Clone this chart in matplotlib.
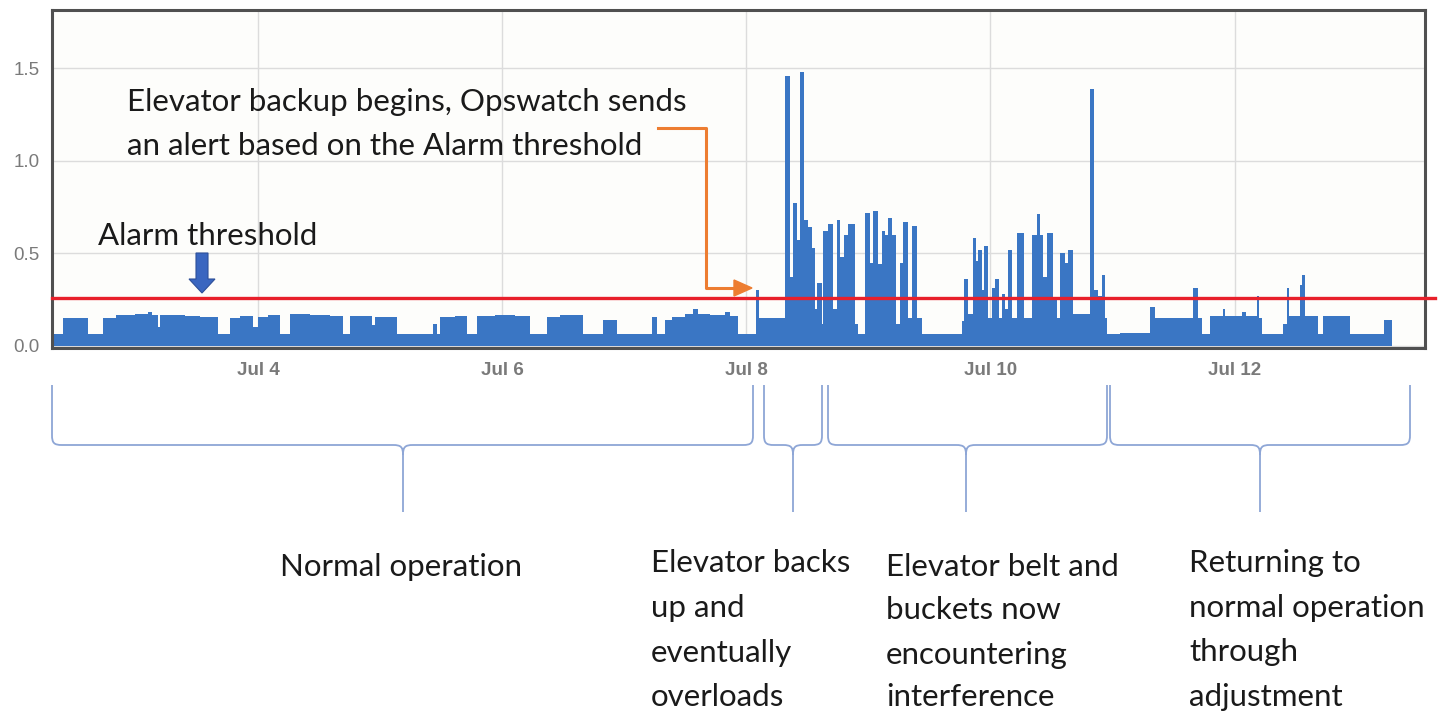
import numpy as np
import matplotlib
matplotlib.use('Agg')
import matplotlib.pyplot as plt
from matplotlib.path import Path
from matplotlib.patches import PathPatch, Polygon
from matplotlib.lines import Line2D

W, H = 1445, 713

# load signal: hours since Jul 2 00:00 where the level changes, level held until next change
change_hours = [
    7.6, 9.7, 14.6, 17.6, 20.0, 23.9, 26.4, 27.2, 28.4, 28.8, 33.7, 36.7,
    40.2, 42.6, 44.5, 47.1, 48.1, 50.0, 52.4, 54.3, 58.3, 62.2, 64.8, 66.1,
    70.5, 71.1, 75.4, 82.5, 83.2, 83.8, 86.8, 89.1, 91.1, 94.6, 98.6, 101.5,
    104.9, 107.4, 111.9, 115.9, 118.6, 125.5, 126.5, 128.1, 129.4, 132.0,
    133.6, 134.5, 136.9, 139.9, 140.8, 142.4, 145.9, 146.5,
    151.6, 152.6, 153.2, 154.0, 154.6, 155.4, 156.2, 157.0, 157.5, 157.9,
    158.9, 159.1, 160.1, 161.1, 161.9, 162.5, 163.2, 164.0, 165.4, 166.0,
    167.4, 168.4, 168.9, 169.9, 170.7, 171.3, 171.9, 172.7, 173.5, 174.2,
    174.8, 175.8, 176.6, 177.6, 178.6,
    186.4, 186.8, 187.6, 188.6, 189.2, 189.6, 190.4, 190.8, 191.5, 192.3,
    192.9, 193.7, 194.3, 194.9, 195.5, 196.3, 197.2, 198.6, 200.2, 201.2,
    201.8, 202.4, 203.1, 204.3, 205.1, 205.7, 206.7, 207.3, 208.3, 211.6,
    212.4, 213.2, 214.0, 214.5, 214.9,
    217.5, 223.4, 224.4, 231.8, 232.8, 233.6, 235.2, 237.7, 238.1, 241.5,
    242.3, 244.4, 244.8, 245.4, 249.5, 250.3, 250.7, 252.9, 253.3, 253.9,
    256.4, 257.4, 262.7, 269.3, 270.9,
]
load_levels = [
    0.065, 0.15, 0.065, 0.15, 0.165, 0.17, 0.18, 0.165, 0.10, 0.165, 0.16, 0.155,
    0.065, 0.15, 0.16, 0.10, 0.155, 0.165, 0.065, 0.17, 0.165, 0.16, 0.065, 0.16,
    0.11, 0.155, 0.065, 0.12, 0.065, 0.155, 0.16, 0.065, 0.16, 0.165, 0.16, 0.065,
    0.155, 0.165, 0.065, 0.14, 0.065, 0.155, 0.065, 0.14, 0.155, 0.17,
    0.20, 0.17, 0.165, 0.18, 0.16, 0.065, 0.30, 0.15,
    1.46, 0.37, 0.77, 0.57, 1.48, 0.68, 0.64, 0.53, 0.20, 0.34,
    0.12, 0.62, 0.66, 0.20, 0.68, 0.48, 0.60, 0.66, 0.12, 0.065,
    0.72, 0.45, 0.73, 0.44, 0.62, 0.60, 0.69, 0.60, 0.12, 0.45,
    0.67, 0.15, 0.65, 0.15, 0.065,
    0.135, 0.36, 0.17, 0.58, 0.46, 0.52, 0.30, 0.54, 0.15, 0.31,
    0.36, 0.15, 0.28, 0.20, 0.52, 0.15, 0.61, 0.15, 0.60, 0.71,
    0.60, 0.37, 0.61, 0.25, 0.15, 0.50, 0.45, 0.52, 0.17, 1.39,
    0.30, 0.27, 0.38, 0.15, 0.065,
    0.07, 0.21, 0.15, 0.31, 0.15, 0.065, 0.16, 0.20, 0.16, 0.18,
    0.16, 0.27, 0.15, 0.065, 0.12, 0.31, 0.16, 0.33, 0.38, 0.16,
    0.065, 0.16, 0.065, 0.14, 0.0,
]
alarm_threshold = 0.26
x_range = (2.313, 13.56)
y_range = (-0.012, 1.815)
tick_days = [4, 6, 8, 10, 12]
tick_labels = ['Jul 4', 'Jul 6', 'Jul 8', 'Jul 10', 'Jul 12']
y_ticks = [0.0, 0.5, 1.0, 1.5]

# phase braces below the chart (left, right, tip) in pixels
braces = [(52, 753, 403), (764, 822, 793), (828, 1107, 966), (1110, 1410, 1260)]

phase_texts = [
    (280, 567, 'Normal operation'),
    (651, 563, 'Elevator backs'), (651, 608, 'up and'),
    (651, 653, 'eventually'), (651, 697, 'overloads'),
    (886, 567, 'Elevator belt and'), (886, 610, 'buckets now'),
    (886, 655, 'encountering'), (886, 697, 'interference'),
    (1189, 563, 'Returning to'), (1189, 608, 'normal operation'),
    (1189, 652, 'through'), (1189, 697, 'adjustment'),
]

TEXT_FONT = ['Lato', 'DejaVu Sans']
TEXT_SIZE = 22.5
BLUE = '#3a76c4'


def px(x, y):
    return (x / W, 1 - y / H)


fig = plt.figure(figsize=(W / 100, H / 100), dpi=100)
fig.patch.set_facecolor('white')
ax = fig.add_axes([52 / W, 1 - 348 / H, (1425 - 52) / W, (348 - 10) / H])
ax.set_facecolor('#fdfdfb')

x_days = 2 + np.array(change_hours + [x_range[1] * 24 - 48]) / 24
y_vals = np.array(load_levels + [0.0])
ax.fill_between(x_days, y_vals, 0, step='post', color=BLUE, linewidth=0, zorder=2)

ax.plot([x_range[0], x_range[1] + 0.08], [alarm_threshold] * 2, color='#e8202a',
        lw=2.4, zorder=3, clip_on=False)

ax.set_xlim(*x_range)
ax.set_ylim(*y_range)
ax.set_xticks(tick_days)
ax.set_xticklabels(tick_labels, fontsize=13.5, color='#7a7a7a', fontweight='bold',
                   family='Liberation Sans')
ax.set_yticks(y_ticks)
ax.set_yticklabels([f'{v:.1f}' for v in y_ticks], fontsize=13.5, color='#7a7a7a',
                   family='Liberation Sans')
ax.tick_params(axis='both', length=0)
ax.tick_params(axis='x', pad=10)
ax.tick_params(axis='y', pad=9)
ax.grid(True, color='#dcdcdc', lw=1.0, zorder=0)
ax.set_axisbelow(True)
for s in ax.spines.values():
    s.set_color('#505050')
    s.set_linewidth(2.2)

# annotation texts
for x, y, t in [(127, 102, 'Elevator backup begins, Opswatch sends'),
                (127, 146, 'an alert based on the Alarm threshold'),
                (98, 236, 'Alarm threshold')]:
    fig.text(*px(x, y), t, fontsize=TEXT_SIZE, family=TEXT_FONT, color='#1a1a1a',
             ha='left', va='center')

# orange elbow arrow
ox = [658, 706, 706, 738]
oy = [128, 128, 288, 288]
fig.add_artist(Line2D([v / W for v in ox], [1 - v / H for v in oy], color='#ed7d31',
                      lw=2.2, transform=fig.transFigure))
fig.add_artist(Polygon([px(734, 280), px(752, 288), px(734, 296)], closed=True,
                       color='#ed7d31', transform=fig.transFigure))

# blue block arrow pointing at the threshold
arrow = [(196, 253), (208, 253), (208, 279), (215, 279), (202, 293),
         (189, 279), (196, 279)]
fig.add_artist(Polygon([px(*p) for p in arrow], closed=True, facecolor='#3a66c0',
                       edgecolor='#2d4f99', lw=0.8, transform=fig.transFigure))


def brace_path(x0, x1, xt, y0=385, ym=445, yt=512, r=10):
    verts = [(x0, y0), (x0, ym - r), (x0, ym - 2), (x0 + 2, ym), (x0 + r, ym),
             (xt - r, ym), (xt - 2, ym), (xt, ym + 2), (xt, ym + r), (xt, yt),
             (xt, ym + r), (xt, ym + 2), (xt + 2, ym), (xt + r, ym),
             (x1 - r, ym), (x1 - 2, ym), (x1, ym - 2), (x1, ym - r), (x1, y0)]
    codes = [Path.MOVETO, Path.LINETO, Path.CURVE4, Path.CURVE4, Path.CURVE4,
             Path.LINETO, Path.CURVE4, Path.CURVE4, Path.CURVE4, Path.LINETO,
             Path.MOVETO, Path.CURVE4, Path.CURVE4, Path.CURVE4,
             Path.LINETO, Path.CURVE4, Path.CURVE4, Path.CURVE4, Path.LINETO]
    return Path([px(*v) for v in verts], codes)


for x0, x1, xt in braces:
    fig.add_artist(PathPatch(brace_path(x0, x1, xt), facecolor='none',
                             edgecolor='#8ea6d6', lw=1.3, transform=fig.transFigure))

for x, y, t in phase_texts:
    fig.text(*px(x, y), t, fontsize=TEXT_SIZE, family=TEXT_FONT, color='#1a1a1a',
             ha='left', va='center')

fig.savefig('out.png', dpi=100)
